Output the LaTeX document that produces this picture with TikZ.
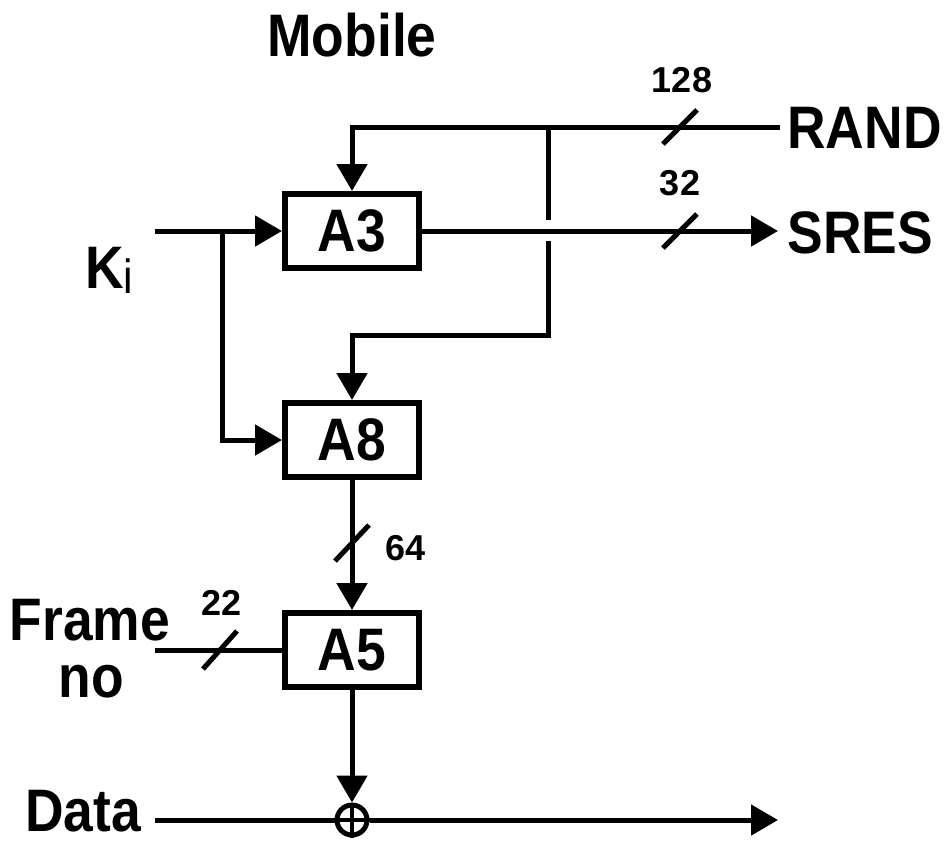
\documentclass[tikz,border=0pt]{standalone}
\usepackage{fontspec}
\newfontfamily\lbl[FakeStretch=0.89]{Liberation Sans}
\newfontfamily\numf{Liberation Sans}
\usetikzlibrary{arrows.meta}
\begin{document}
\begin{tikzpicture}[x=0.5pt,y=-0.5pt,
  wire/.style={line width=2.5pt},
  arr/.style={wire,-{Triangle[length=13.5pt,width=15pt]}},
  blk/.style={draw,line width=3pt,minimum width=67pt,minimum height=37pt,inner sep=0pt,font=\lbl\bfseries\fontsize{30}{36}\selectfont},
  txt/.style={inner sep=0pt,font=\lbl\bfseries\fontsize{30}{36}\selectfont},
  num/.style={inner sep=0pt,font=\numf\bfseries\fontsize{18}{22}\selectfont},
]
\useasboundingbox (0,0) rectangle (946,843);
% blocks
\node[blk] (a3) at (352,231) {A3};
\node[blk] (a8) at (352,440) {A8};
\node[blk] (a5) at (352,650) {A5};
\node[draw,circle,line width=2.5pt,minimum size=15pt,inner sep=0pt] (xor) at (352,820) {};
\draw[line width=2pt] (xor.north) -- (xor.south) (xor.west) -- (xor.east);
% coordinates
\coordinate (randin) at (780,127);
\coordinate (randc) at (352,127);
\coordinate (rbr) at (548,127);
\coordinate (gaptop) at (548,220);
\coordinate (gapbot) at (548,241);
\coordinate (a8c) at (548,335);
\coordinate (a8c2) at (352,335);
\coordinate (kin) at (155,231);
\coordinate (kbr) at (222,231);
\coordinate (kbr2) at (222,440);
\coordinate (sresout) at (778,231);
\coordinate (fin) at (155,650);
\coordinate (din) at (155,820);
\coordinate (dout) at (778,820);
% connectors
\draw[arr] (randin) -- (randc) -- (a3.north);
\draw[wire] (rbr) -- (gaptop);
\draw[arr] (gapbot) -- (a8c) -- (a8c2) -- (a8.north);
\draw[arr] (kin) -- (a3.west);
\draw[arr] (kbr) -- (kbr2) -- (a8.west);
\draw[arr] (a3.east) -- (sresout);
\draw[arr] (a8.south) -- (a5.north);
\draw[wire] (fin) -- (a5.west);
\draw[arr] (a5.south) -- (xor.north);
\draw[wire] (din) -- (xor.west);
\draw[arr] (xor.east) -- (dout);
% bus width slashes
\draw[wire] (680,127) ++(-17,17) -- ++(34,-34);
\draw[wire] (680,231) ++(-17,17) -- ++(34,-34);
\draw[wire] (352,543) ++(-17,18) -- ++(34,-36);
\draw[wire] (220,650) ++(-17,19) -- ++(34,-38);
% labels
\node[txt,anchor=base] (mob) at (352,56) {Mobile};
\node[txt,anchor=base west] (rand) at (787,148) {RAND};
\node[txt,anchor=base west] (sres) at (787,253) {SRES};
\node[num,anchor=base] (n128) at (682,92) {128};
\node[num,anchor=base] (n32) at (680,195) {32};
\node[num,anchor=base west] (n64) at (385,560) {64};
\node[num,anchor=base] (n22) at (222,615) {22};
\node[txt,anchor=base] (frame) at (90,640) {Frame};
\node[txt,anchor=base] (no) at (91,697) {no};
\node[txt,anchor=base] (data) at (83,831) {Data};
\node[txt,anchor=base west] (ki) at (85,288) {K\raisebox{-2.5pt}{\lbl\mdseries\fontsize{24}{26}\selectfont i}};
\end{tikzpicture}
\end{document}
